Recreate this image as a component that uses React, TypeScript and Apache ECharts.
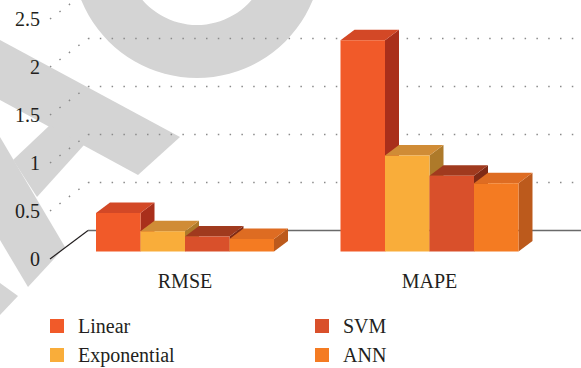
import { useEffect, useRef } from "react";
import * as echarts from "echarts";

const categories = ["RMSE", "MAPE"];
const seriesNames = ["Linear", "Exponential", "SVM", "ANN"];
const linearValues = [0.4, 2.2];
const exponentialValues = [0.21, 1.0];
const svmValues = [0.155, 0.79];
const annValues = [0.13, 0.71];
const yTicks = [0, 0.5, 1, 1.5, 2, 2.5];

const seriesValues = [linearValues, exponentialValues, svmValues, annValues];

// face colours for each box: front, top, right side
const palette = [
  { front: "#F15A29", top: "#D34826", side: "#A92F1B" },
  { front: "#F9AD3A", top: "#D08C36", side: "#AE7A2A" },
  { front: "#D9502B", top: "#A03A1E", side: "#7F2A15" },
  { front: "#F47B22", top: "#DE6C22", side: "#BC5A1C" },
];

const FONT = "Liberation Serif, DejaVu Serif, serif";
const TEXT = "#231f20";
const GREY = "#d4d4d4";

// pseudo-3D geometry, in pixels
const AXIS_INSET = 12.75; // front y-axis sits this far left of the grid
const WALL_DX = 38; // front plane -> back wall
const WALL_DY = -28.5;
const BAR_DY = -7.5; // front plane -> bar front faces
const BAR_DEPTH_X = 14;
const BAR_DEPTH_Y = -10.5;
const BAR_FRACTION = 0.182; // one bar's width relative to a category band

function barRenderer(index: number) {
  return (params: any, api: any) => {
    const cat = api.value(0);
    const v = api.value(1);
    const base = api.coord([cat, 0]);
    const top = api.coord([cat, v]);
    const band = api.size([1, 0])[0];
    const w = band * BAR_FRACTION;
    const x0 = base[0] - 2 * w + index * w;
    const x1 = x0 + w;
    const yb = base[1] + BAR_DY;
    const yt = top[1] + BAR_DY;
    const dx = BAR_DEPTH_X;
    const dy = BAR_DEPTH_Y;
    const c = palette[index];
    return {
      type: "group",
      children: [
        {
          type: "polygon",
          shape: { points: [[x1, yb], [x1 + dx, yb + dy], [x1 + dx, yt + dy], [x1, yt]] },
          style: { fill: c.side },
        },
        {
          type: "polygon",
          shape: { points: [[x0, yt], [x1, yt], [x1 + dx, yt + dy], [x0 + dx, yt + dy]] },
          style: { fill: c.top },
        },
        {
          type: "polygon",
          shape: { points: [[x0, yb], [x1, yb], [x1, yt], [x0, yt]] },
          style: { fill: c.front },
        },
      ],
    };
  };
}

function gridRenderer(params: any, api: any) {
  const v = api.value(1);
  const p = api.coord([0, v]);
  const cs = params.coordSys;
  const fx = cs.x - AXIS_INSET;
  const fy = p[1];
  const bx = fx + WALL_DX;
  const by = fy + WALL_DY;
  const right = api.getWidth();
  if (v === 0) {
    return {
      type: "group",
      children: [
        {
          type: "line",
          shape: { x1: fx, y1: fy, x2: bx, y2: by },
          style: { stroke: "#231f20", lineWidth: 1.2 },
        },
        {
          type: "line",
          shape: { x1: bx, y1: by, x2: right, y2: by },
          style: { stroke: "#6a6a6a", lineWidth: 1.6 },
        },
      ],
    };
  }
  const dotted = { stroke: "#8a8a8a", lineWidth: 1.5, lineDash: [1.5, 10.3] };
  return {
    type: "group",
    children: [
      { type: "line", shape: { x1: fx, y1: fy, x2: bx, y2: by }, style: dotted },
      { type: "line", shape: { x1: bx, y1: by, x2: right, y2: by }, style: dotted },
    ],
  };
}

const legendText = {
  fontFamily: FONT,
  fontSize: 20,
  lineHeight: 20,
  color: TEXT,
  padding: [0, 0, 0, 9],
};

function legendItems(names: string[]) {
  return names.map((n) => ({
    name: n,
    icon: "rect",
    itemStyle: { color: palette[seriesNames.indexOf(n)].front },
  }));
}

export default function App() {
  const ref = useRef<HTMLDivElement>(null);

  useEffect(() => {
    if (!ref.current) return;
    const chart = echarts.init(ref.current, undefined, { renderer: "svg" });
    chart.setOption({
      animation: false,
      backgroundColor: "#ffffff",
      textStyle: { fontFamily: FONT },
      graphic: {
        elements: [
          { type: "ring", silent: true, z: -10, shape: { cx: 197, cy: -47, r: 125, r0: 72 }, style: { fill: GREY } },
          { type: "polygon", silent: true, z: -10, shape: { points: [[0, 40], [180, 137], [138, 175], [0, 100]] }, style: { fill: GREY } },
          { type: "polygon", silent: true, z: -10, shape: { points: [[50, 125], [84, 145], [37, 197], [13, 160]] }, style: { fill: GREY } },
          { type: "polygon", silent: true, z: -10, shape: { points: [[0, 137], [65, 247], [28, 287], [0, 240]] }, style: { fill: GREY } },
          { type: "polygon", silent: true, z: -10, shape: { points: [[0, 283], [18, 296], [0, 315]] }, style: { fill: GREY } },
        ],
      },
      grid: { left: 62.75, right: 29.25, top: 19, bottom: 109, containLabel: false },
      xAxis: {
        type: "category",
        data: categories,
        axisLine: { show: false },
        axisTick: { show: false },
        splitLine: { show: false },
        axisLabel: { margin: 12, fontFamily: FONT, fontSize: 20, lineHeight: 20, color: TEXT },
      },
      yAxis: {
        type: "value",
        min: yTicks[0],
        max: yTicks[yTicks.length - 1],
        interval: yTicks[1] - yTicks[0],
        axisLine: { show: false },
        axisTick: { show: false },
        splitLine: { show: false },
        axisLabel: { margin: AXIS_INSET + 10, fontFamily: FONT, fontSize: 20, lineHeight: 20, color: TEXT },
      },
      legend: [
        {
          left: 50,
          top: 316,
          orient: "vertical",
          padding: 0,
          itemWidth: 14,
          itemHeight: 14,
          itemGap: 9,
          selectedMode: false,
          textStyle: legendText,
          data: legendItems(["Linear", "Exponential"]),
        },
        {
          left: 315,
          top: 316,
          orient: "vertical",
          padding: 0,
          itemWidth: 14,
          itemHeight: 14,
          itemGap: 9,
          selectedMode: false,
          textStyle: legendText,
          data: legendItems(["SVM", "ANN"]),
        },
      ],
      series: [
        {
          type: "custom",
          name: "grid",
          silent: true,
          z: 1,
          clip: false,
          data: yTicks.map((v) => [0, v]),
          renderItem: gridRenderer,
        },
        ...seriesNames.map((name, i) => ({
          type: "custom",
          name,
          z: 2,
          clip: false,
          itemStyle: { color: palette[i].front },
          data: categories.map((_, c) => [c, seriesValues[i][c]]),
          renderItem: barRenderer(i),
        })),
      ],
    });
    return () => chart.dispose();
  }, []);

  return (
    <div
      ref={ref}
      style={{ position: "fixed", left: 0, top: 0, width: 581, height: 368 }}
    />
  );
}
